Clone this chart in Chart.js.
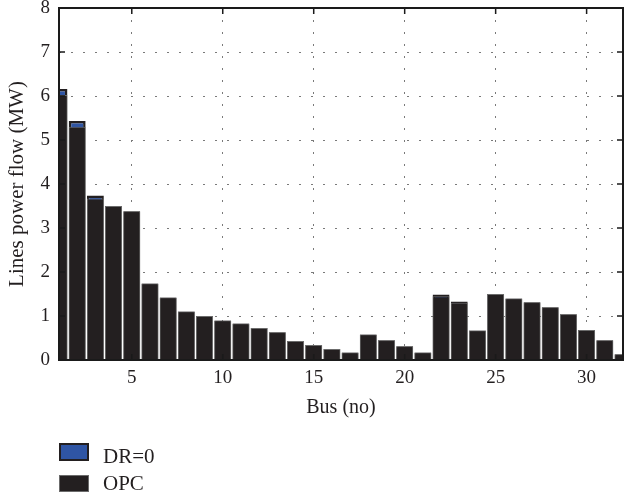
<!DOCTYPE html>
<html>
<head>
<meta charset="utf-8">
<script src="https://cdn.jsdelivr.net/npm/chart.js@4"></script>
<style>
  body { margin: 0; background: #fff; }
  #wrap { position: relative; width: 624px; height: 499px; }
  .leg-box { position: absolute; left: 59px; width: 30px; box-sizing: border-box; }
  .leg-text { position: absolute; left: 103px; font: 21px "Liberation Serif", "DejaVu Serif", serif; color: #231f20; line-height: 24px; }
</style>
</head>
<body>
<div id="wrap">
  <canvas id="myChart" width="624" height="499"></canvas>
  <div class="leg-box" style="top:443px;height:18px;background:#2f55a4;border:2px solid #231f20;"></div>
  <div class="leg-text" style="top:444px;">DR=0</div>
  <div class="leg-box" style="top:475px;height:17px;background:#231f20;border:1px solid #6b6b6b;"></div>
  <div class="leg-text" style="top:471px;">OPC</div>
</div>
<script>
var busLabels = [];
for (var i = 1; i <= 32; i++) busLabels.push(i);

var opcValues = [6.02, 5.30, 3.67, 3.50, 3.38, 1.74, 1.42, 1.10, 1.00, 0.90, 0.83, 0.73, 0.63, 0.43, 0.34, 0.25,
                 0.17, 0.58, 0.45, 0.31, 0.17, 1.45, 1.30, 0.67, 1.50, 1.40, 1.31, 1.20, 1.04, 0.68, 0.45, 0.13];
var dr0Values = [6.16, 5.43, 3.74, 3.50, 3.38, 1.74, 1.42, 1.10, 1.00, 0.90, 0.83, 0.73, 0.63, 0.43, 0.34, 0.25,
                 0.17, 0.58, 0.45, 0.31, 0.17, 1.49, 1.33, 0.67, 1.50, 1.40, 1.31, 1.20, 1.04, 0.68, 0.45, 0.13];
var yTicks = [0, 1, 2, 3, 4, 5, 6, 7, 8];

Chart.defaults.font.family = "'Liberation Serif', 'DejaVu Serif', serif";
Chart.defaults.font.size = 19;
Chart.defaults.color = "#231f20";

// box around the plot with inward ticks (matlab style)
const boxPlugin = {
  id: "box",
  afterDraw(chart) {
    const ctx = chart.ctx;
    const a = chart.chartArea;
    const xs = chart.scales.x;
    const ys = chart.scales.y;
    ctx.save();
    ctx.strokeStyle = "#1a1a1a";
    ctx.lineWidth = 1.5;
    ctx.beginPath();
    yTicks.forEach((v) => {
      const py = ys.getPixelForValue(v);
      ctx.moveTo(a.left, py); ctx.lineTo(a.left + 6, py);
      ctx.moveTo(a.right, py); ctx.lineTo(a.right - 6, py);
    });
    busLabels.forEach((b, idx) => {
      if (b % 5 !== 0) return;
      const px = xs.getPixelForValue(idx);
      ctx.moveTo(px, a.top); ctx.lineTo(px, a.top + 6);
      ctx.moveTo(px, a.bottom); ctx.lineTo(px, a.bottom - 6);
    });
    ctx.stroke();
    ctx.lineWidth = 2;
    ctx.strokeRect(a.left, a.top, a.right - a.left, a.bottom - a.top);
    ctx.restore();
  },
};

const ctx = document.getElementById("myChart").getContext("2d");

new Chart(ctx, {
  type: "bar",
  data: {
    labels: busLabels,
    datasets: [
      {
        label: "DR=0",
        data: dr0Values,
        backgroundColor: "#2f55a4",
        borderColor: "#231f20",
        borderWidth: 2.5,
        order: 1,
        clip: 0,
      },
      {
        label: "OPC",
        data: opcValues,
        backgroundColor: "#231f20",
        borderColor: "#6b6b6b",
        borderWidth: 1,
        order: 0,
        clip: 0,
      },
    ],
  },
  options: {
    responsive: false,
    animation: false,
    layout: { padding: { top: 8, right: 1, bottom: 79, left: 0 } },
    datasets: {
      bar: { grouped: false, barPercentage: 0.93, categoryPercentage: 1 },
    },
    plugins: {
      legend: { display: false },
      tooltip: { enabled: false },
    },
    scales: {
      x: {
        offset: false,
        grid: {
          drawTicks: false,
          offset: false,
          color: (c) => (busLabels[c.index] % 5 === 0 ? "#7a7a7a" : "transparent"),
        },
        border: { display: false, dash: [2, 10] },
        ticks: {
          autoSkip: false,
          maxRotation: 0,
          padding: 7,
          callback: function (value, index) {
            return busLabels[index] % 5 === 0 ? String(busLabels[index]) : "";
          },
        },
        title: {
          display: true,
          text: "Bus (no)",
          font: { size: 20 },
          padding: { top: 0, bottom: 0 },
        },
        afterFit: function (scale) {
          scale.height = 60;
          scale.paddingLeft = 0;
          scale.paddingRight = 0;
        },
      },
      y: {
        min: 0,
        max: 8,
        grid: {
          drawTicks: false,
          color: (c) => (c.tick && c.tick.value > 0 && c.tick.value < 8 ? "#7a7a7a" : "transparent"),
        },
        border: { display: false, dash: [2, 10] },
        ticks: { stepSize: 1, padding: 9 },
        title: {
          display: true,
          text: "Lines power flow (MW)",
          font: { size: 21 },
          padding: { top: 5, bottom: 0 },
        },
        afterFit: function (scale) {
          scale.width = 59;
          scale.paddingTop = 0;
          scale.paddingBottom = 0;
        },
      },
    },
  },
  plugins: [boxPlugin],
});
</script>
</body>
</html>
